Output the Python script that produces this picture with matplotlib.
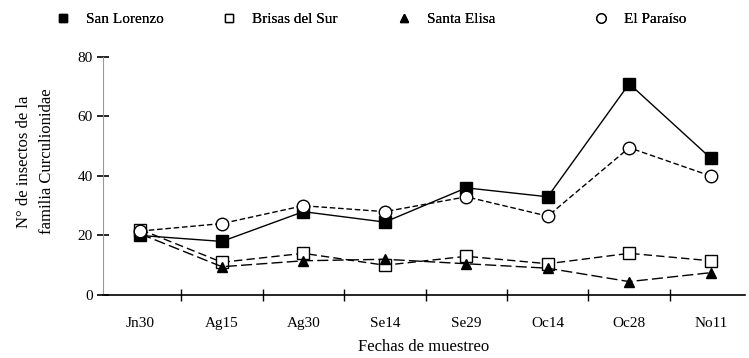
import matplotlib
matplotlib.use("Agg")
import matplotlib.pyplot as plt
from matplotlib.lines import Line2D
import numpy as np

fechas = ["Jn30", "Ag15", "Ag30", "Se14", "Se29", "Oc14", "Oc28", "No11"]
san_lorenzo = [20, 18, 28, 24.5, 36, 33, 71, 46]
brisas_del_sur = [22, 11, 14, 10, 13, 10.5, 14, 11.5]
santa_elisa = [20.5, 9.5, 11.5, 12, 10.5, 9, 4.5, 7.5]
el_paraiso = [21.5, 24, 30, 28, 33, 26.5, 49.5, 40]

plt.rcParams["font.family"] = ["Liberation Serif", "DejaVu Serif"]

fig = plt.figure(figsize=(7.49, 3.58), dpi=100)
ax = fig.add_axes([0.1375, 0.176, 0.857, 0.665])

x = np.arange(len(fechas))
series = [
    ("San Lorenzo", san_lorenzo, "-", "s", 8, "black"),
    ("Brisas del Sur", brisas_del_sur, (0, (6, 3)), "s", 8, "white"),
    ("Santa Elisa", santa_elisa, (0, (8, 3)), "^", 7, "black"),
    ("El Paraíso", el_paraiso, (0, (4, 2)), "o", 9, "white"),
]
for name, vals, ls, mk, ms, fc in series:
    ax.plot(x, vals, color="black", lw=1, ls=ls, marker=mk, ms=ms,
            mfc=fc, mec="black")

ax.set_xlim(-0.46, 7.42)
ax.set_ylim(0, 80)
ax.set_yticks([0, 20, 40, 60, 80])
ax.set_xticks(x)
ax.set_xticklabels(fechas)
ax.set_xticks(x[:-1] + 0.5, minor=True)
ax.tick_params(axis="x", which="major", length=0, pad=16, labelsize=11)
ax.tick_params(axis="x", which="minor", direction="inout", length=9, width=1)
ax.tick_params(axis="y", direction="inout", length=8, width=1.2, labelsize=11)
ax.spines[["top", "right"]].set_visible(False)
ax.spines["bottom"].set_linewidth(1.2)
ax.spines["left"].set_color("#999999")

ax.set_xlabel("Fechas de muestreo", fontsize=12, labelpad=6)
ax.set_ylabel("N° de insectos de la\nfamilia Curculionidae", fontsize=12,
              linespacing=1.6)
ax.yaxis.set_label_coords(-0.075, 0.56)

# legend: one entry per slot, markers only
legend_x = [0.060, 0.281, 0.515, 0.778]
for (name, vals, ls, mk, ms, fc), lx in zip(series, legend_x):
    h = Line2D([], [], ls="none", marker=mk, ms=ms * 0.75, mfc=fc, mec="black")
    leg = fig.legend([h], [name], loc="upper left", bbox_to_anchor=(lx, 0.995),
                     frameon=False, fontsize=11, handlelength=1.0,
                     handletextpad=1.0, borderaxespad=0.3)
    fig.add_artist(leg)

fig.savefig("out.png", dpi=100)
